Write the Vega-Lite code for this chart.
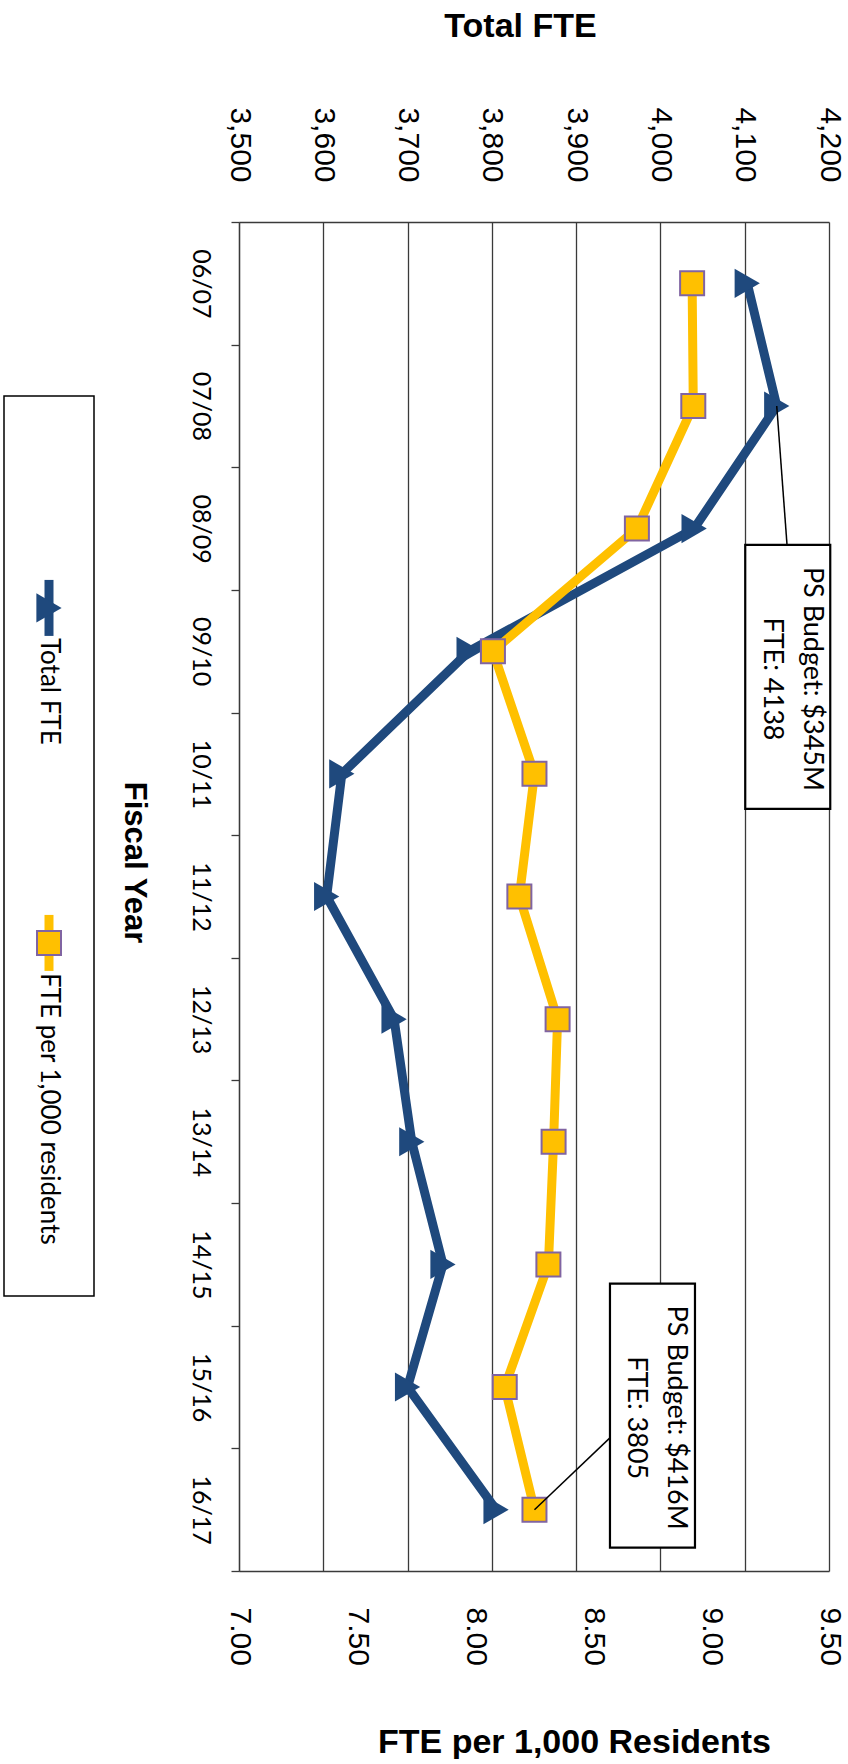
{
  "$schema": "https://vega.github.io/schema/vega-lite/v6.json",
  "background": "white",
  "padding": {"left": 1, "top": 9, "right": 8, "bottom": 0},
  "config": {"view": {"stroke": null}, "font": "Lato"},
  "datasets": {
    "fte": [
      {"fy": "06/07", "total": 4103, "per1000": 8.92},
      {"fy": "07/08", "total": 4138, "per1000": 8.925},
      {"fy": "08/09", "total": 4040, "per1000": 8.686},
      {"fy": "09/10", "total": 3773, "per1000": 8.076},
      {"fy": "10/11", "total": 3622, "per1000": 8.252},
      {"fy": "11/12", "total": 3604, "per1000": 8.188},
      {"fy": "12/13", "total": 3684, "per1000": 8.35},
      {"fy": "13/14", "total": 3705, "per1000": 8.333},
      {"fy": "14/15", "total": 3742, "per1000": 8.311},
      {"fy": "15/16", "total": 3700, "per1000": 8.126},
      {"fy": "16/17", "total": 3805, "per1000": 8.252}
    ],
    "legend": [
      {"series": "Total FTE"},
      {"series": "FTE per 1,000 residents"}
    ],
    "note1": [
      {"fy": "07/08", "total": 4138, "label": ["PS Budget: $345M", "FTE: 4138"]}
    ],
    "note2": [
      {"fy": "16/17", "per1000": 8.252, "label": ["PS Budget: $416M", "FTE: 3805"]}
    ]
  },
  "spacing": 21,
  "hconcat": [
    {
      "width": 90,
      "height": 1005,
      "data": {"name": "legend"},
      "layer": [
        {
          "transform": [{"filter": "datum.series === 'Total FTE'"}],
          "mark": {"type": "point", "shape": "M-0.1,-1H0.1V1H-0.1Z", "size": 810000, "filled": true, "fill": "#FFFFFF", "stroke": "#000000", "strokeWidth": 1.5, "opacity": 1, "yOffset": 121.5}
        },
        {
          "encoding": {
            "y": {
              "field": "series",
              "type": "nominal",
              "sort": null,
              "scale": {"type": "point", "padding": 1, "align": 0.576},
              "axis": null
            }
          },
          "layer": [
            {
              "mark": {"type": "point", "shape": "M0,-1L0,1", "size": 3136, "strokeWidth": 9, "filled": false, "opacity": 1},
              "encoding": {
                "stroke": {
                  "field": "series",
                  "type": "nominal",
                  "scale": {"domain": ["Total FTE", "FTE per 1,000 residents"], "range": ["#1F497D", "#FFC000"]},
                  "legend": null
                }
              }
            },
            {
              "transform": [{"filter": "datum.series === 'Total FTE'"}],
              "mark": {"type": "point", "shape": "triangle-right", "filled": true, "size": 850, "color": "#1F497D", "opacity": 1}
            },
            {
              "transform": [{"filter": "datum.series !== 'Total FTE'"}],
              "mark": {"type": "point", "shape": "square", "filled": true, "size": 576, "fill": "#FFC000", "stroke": "#8064A2", "strokeWidth": 2, "opacity": 1}
            },
            {
              "mark": {"type": "text", "angle": 90, "align": "left", "baseline": "middle", "dx": 30, "font": "Lato", "fontSize": 26, "color": "#000000"},
              "encoding": {"text": {"field": "series"}}
            }
          ]
        }
      ]
    },
    {
      "width": 590,
      "height": 1349,
      "data": {"name": "fte"},
      "encoding": {
        "y": {
          "field": "fy",
          "type": "ordinal",
          "sort": null,
          "bandPosition": 0.5,
          "scale": {
            "type": "band",
            "paddingInner": 0,
            "paddingOuter": 0,
            "domain": ["06/07", "07/08", "08/09", "09/10", "10/11", "11/12", "12/13", "13/14", "14/15", "15/16", "16/17"]
          },
          "axis": {
            "title": "Fiscal Year",
            "titleFont": "Liberation Sans",
            "titleFontSize": 31,
            "titleFontWeight": "bold",
            "titleColor": "#000000",
            "titleAngle": 90,
            "titleAlign": "center",
            "titleBaseline": "middle",
            "titleX": -106,
            "titleY": 640,
            "labelAngle": 90,
            "labelAlign": "center",
            "labelBaseline": "middle",
            "labelFont": "Lato",
            "labelFontSize": 25,
            "labelColor": "#000000",
            "labelPadding": 31,
            "labelOverlap": false,
            "ticks": true,
            "tickBand": "extent",
            "tickSize": 8,
            "tickColor": "#3a3a3a",
            "tickWidth": 1.3,
            "domainColor": "#3a3a3a",
            "domainWidth": 1.3,
            "grid": false
          }
        }
      },
      "layer": [
        {
          "encoding": {
            "x": {
              "field": "total",
              "type": "quantitative",
              "scale": {"domain": [3500, 4200], "nice": false, "zero": false},
              "axis": {
                "orient": "top",
                "title": "Total FTE",
                "titleFont": "Liberation Sans",
                "titleFontSize": 34,
                "titleFontWeight": "bold",
                "titleColor": "#000000",
                "titleX": 281,
                "titleY": -186,
                "titleAlign": "center",
                "titleBaseline": "alphabetic",
                "values": [3500, 3600, 3700, 3800, 3900, 4000, 4100, 4200],
                "format": ",.0f",
                "labelAngle": 90,
                "labelAlign": "right",
                "labelBaseline": "middle",
                "labelFont": "Liberation Sans",
                "labelFontSize": 30,
                "labelColor": "#000000",
                "labelPadding": 40,
                "labelFlush": false,
                "labelOverlap": false,
                "ticks": false,
                "tickSize": 0,
                "grid": true,
                "gridColor": "#3a3a3a",
                "gridWidth": 1.3,
                "domainColor": "#3a3a3a",
                "domainWidth": 1.5
              }
            }
          },
          "layer": [
            {"mark": {"type": "line", "color": "#1F497D", "strokeWidth": 9}},
            {"mark": {"type": "point", "shape": "triangle-right", "filled": true, "size": 850, "color": "#1F497D", "opacity": 1}},
            {
              "data": {"name": "note1"},
              "mark": {"type": "point", "shape": "M0,0L0.074,1", "size": 77507, "filled": false, "stroke": "#000000", "strokeWidth": 1.5, "opacity": 1}
            },
            {
              "data": {"name": "note1"},
              "mark": {"type": "point", "shape": "M-0.322,-1H0.322V1H-0.322Z", "size": 69696, "filled": true, "fill": "#FFFFFF", "stroke": "#000000", "strokeWidth": 2.2, "opacity": 1, "xOffset": 11, "yOffset": 271}
            },
            {
              "data": {"name": "note1"},
              "mark": {"type": "text", "angle": 90, "align": "center", "baseline": "middle", "font": "Lato", "fontSize": 27, "lineHeight": 40, "color": "#000000", "xOffset": 35, "yOffset": 273},
              "encoding": {"text": {"field": "label"}}
            }
          ]
        },
        {
          "encoding": {
            "x": {
              "field": "per1000",
              "type": "quantitative",
              "scale": {"domain": [7, 9.5], "nice": false, "zero": false},
              "axis": {
                "orient": "bottom",
                "title": "FTE per 1,000 Residents",
                "titleFont": "Liberation Sans",
                "titleFontSize": 34,
                "titleFontWeight": "bold",
                "titleColor": "#000000",
                "titleX": 335,
                "titleY": 181,
                "titleAlign": "center",
                "titleBaseline": "alphabetic",
                "values": [7, 7.5, 8, 8.5, 9, 9.5],
                "format": ".2f",
                "labelAngle": 90,
                "labelAlign": "left",
                "labelBaseline": "middle",
                "labelFont": "Liberation Sans",
                "labelFontSize": 30,
                "labelColor": "#000000",
                "labelPadding": 36,
                "labelFlush": false,
                "labelOverlap": false,
                "ticks": false,
                "tickSize": 0,
                "grid": false,
                "domainColor": "#3a3a3a",
                "domainWidth": 1.5
              }
            }
          },
          "layer": [
            {"mark": {"type": "line", "color": "#FFC000", "strokeWidth": 9}},
            {"mark": {"type": "point", "shape": "square", "filled": true, "size": 576, "fill": "#FFC000", "stroke": "#8064A2", "strokeWidth": 2, "opacity": 1}},
            {
              "data": {"name": "note2"},
              "mark": {"type": "point", "shape": "M0,0L1,-0.952", "size": 22922, "filled": false, "stroke": "#000000", "strokeWidth": 1.5, "opacity": 1}
            },
            {
              "data": {"name": "note2"},
              "mark": {"type": "point", "shape": "M-0.322,-1H0.322V1H-0.322Z", "size": 69696, "filled": true, "fill": "#FFFFFF", "stroke": "#000000", "strokeWidth": 2.2, "opacity": 1, "xOffset": 118, "yOffset": -94}
            },
            {
              "data": {"name": "note2"},
              "mark": {"type": "text", "angle": 90, "align": "center", "baseline": "middle", "font": "Lato", "fontSize": 27, "lineHeight": 40, "color": "#000000", "xOffset": 142, "yOffset": -92},
              "encoding": {"text": {"field": "label"}}
            }
          ]
        }
      ],
      "resolve": {"scale": {"x": "independent"}, "axis": {"x": "independent"}}
    }
  ]
}
